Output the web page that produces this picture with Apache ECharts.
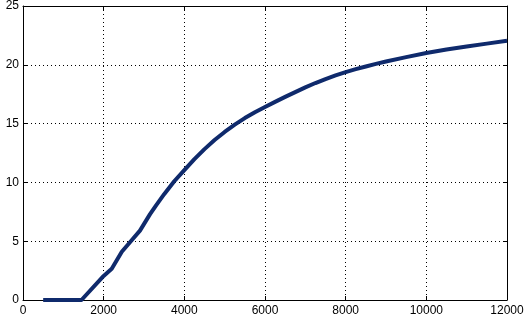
<!DOCTYPE html>
<html>
<head>
<meta charset="utf-8">
<script src="https://cdn.jsdelivr.net/npm/echarts@6/dist/echarts.min.js"></script>
<style>html,body{margin:0;padding:0;background:#fff}#c{width:528px;height:322px}</style>
</head>
<body>
<div id="c"></div>
<script>
var xValues = [500, 1000, 1450, 2000, 2200, 2450, 2700, 2900, 3150, 3300, 3500, 3750, 4000, 4250, 4500, 4750, 5000, 5250, 5500, 5750, 6000, 6250, 6500, 6750, 7000, 7250, 7500, 7750, 8000, 8250, 8500, 8750, 9000, 9500, 10000, 10500, 11000, 11500, 12000];
var yValues = [0, 0, 0, 2.05, 2.65, 4.1, 5.1, 5.9, 7.3, 8.05, 9.0, 10.1, 11.05, 11.98, 12.83, 13.6, 14.29, 14.91, 15.47, 15.97, 16.42, 16.85, 17.27, 17.68, 18.08, 18.45, 18.79, 19.1, 19.38, 19.63, 19.86, 20.08, 20.28, 20.65, 21.0, 21.3, 21.56, 21.8, 22.04];
var xTicks = [0, 2000, 4000, 6000, 8000, 10000, 12000];
var yTicks = [0, 5, 10, 15, 20, 25];

var data = xValues.map(function (x, i) { return [x, yValues[i]]; });
var font = { fontFamily: 'Liberation Sans', fontSize: 12, color: '#000' };
var axisLine = { show: true, onZero: false, lineStyle: { color: '#000', width: 1 } };
var tick = { show: true, inside: true, length: 4, lineStyle: { color: '#000' } };
var split = { show: true, lineStyle: { color: '#000', width: 1, type: [1, 3] } };
var plain = function (v) { return String(v); };

var chart = echarts.init(document.getElementById('c'), null, { renderer: 'canvas' });
chart.setOption({
  animation: false,
  backgroundColor: '#fff',
  grid: { left: 23, right: 21, top: 5.5, bottom: 22, containLabel: false },
  xAxis: [
    { type: 'value', min: xTicks[0], max: xTicks[xTicks.length - 1], interval: 2000, position: 'bottom',
      axisLine: axisLine, axisTick: tick, splitLine: split,
      axisLabel: Object.assign({ margin: 5, formatter: plain }, font) },
    { type: 'value', min: xTicks[0], max: xTicks[xTicks.length - 1], interval: 2000, position: 'top',
      axisLine: axisLine, axisTick: tick, splitLine: { show: false }, axisLabel: { show: false } }
  ],
  yAxis: [
    { type: 'value', min: yTicks[0], max: yTicks[yTicks.length - 1], interval: 5, position: 'left',
      axisLine: axisLine, axisTick: tick, splitLine: split,
      axisLabel: Object.assign({ margin: 4, formatter: plain }, font) },
    { type: 'value', min: yTicks[0], max: yTicks[yTicks.length - 1], interval: 5, position: 'right',
      axisLine: axisLine, axisTick: tick, splitLine: { show: false }, axisLabel: { show: false } }
  ],
  series: [{
    type: 'line',
    data: data,
    showSymbol: false,
    symbol: 'none',
    lineStyle: { color: '#0f2a6c', width: 4, join: 'round' },
    itemStyle: { color: '#0f2a6c' }
  }]
});
</script>
</body>
</html>
